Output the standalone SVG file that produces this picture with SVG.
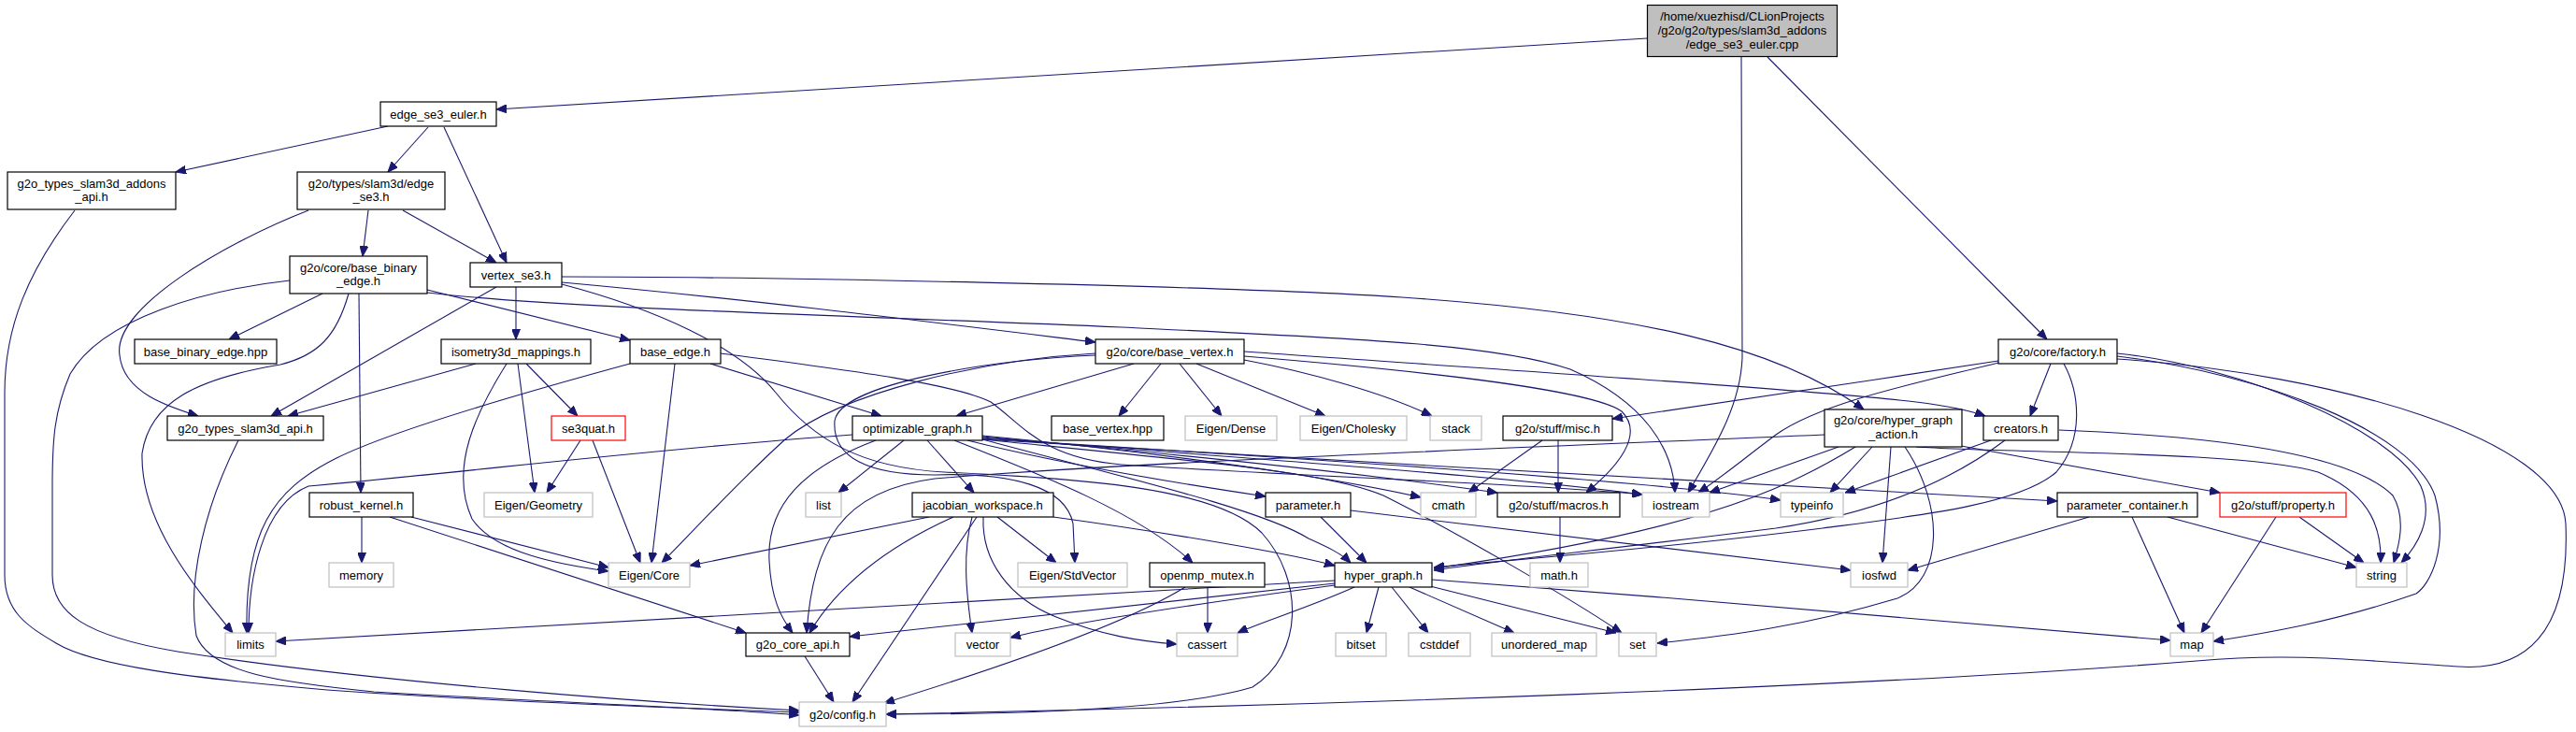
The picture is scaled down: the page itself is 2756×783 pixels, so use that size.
<svg xmlns="http://www.w3.org/2000/svg" width="2756" height="783" viewBox="0 0 2756 783">
<style>
.n rect{fill:#fff;stroke:#000;stroke-width:1.2}
.g rect{stroke:#bfbfbf}
.r rect{stroke:#ff0000}
.root rect{fill:#bfbfbf}
text{font-family:"Liberation Sans",Arial,Helvetica,sans-serif;font-size:13px;text-anchor:middle;fill:#000}
#edges path{fill:none;stroke:#191970;stroke-width:1.1;marker-end:url(#a)}
</style>
<defs>
<marker id="a" markerWidth="11" markerHeight="9" refX="11" refY="4.5" orient="auto" markerUnits="userSpaceOnUse"><path d="M0,0 L11,4.5 L0,9 z" fill="#191970" stroke="#191970" stroke-width="1"/></marker>
</defs>
<rect width="2756" height="783" fill="#fff"/>
<g id="edges">
<path d="M1762,41 L531,117"/>
<path d="M1863,61 L1864,383 C1862,430 1840,470 1806,527"/>
<path d="M1891,61 L2190,363"/>
<path d="M415,135 L188,184"/>
<path d="M458,136 L415,184"/>
<path d="M475,136 L542,281"/>
<path d="M80,225 C30,290 5,350 5,420 L5,615 C5,655 30,670 60,688 C100,712 200,725 350,738 C550,752 750,758 855,762"/>
<path d="M394,225 L388,274"/>
<path d="M431,225 L531,281"/>
<path d="M330,225 C240,260 120,330 128,380 C132,420 180,435 212,445"/>
<path d="M345,314 L245,363"/>
<path d="M384,314 L386,527"/>
<path d="M310,300 C220,310 110,340 75,400 C58,440 56,470 56,520 L56,615 C56,655 90,680 190,697 C400,730 700,752 855,760"/>
<path d="M373,314 C360,360 340,380 300,390 C210,405 160,430 152,485 C150,560 210,630 249,677"/>
<path d="M457,310 L674,364"/>
<path d="M457,313 C600,330 900,337 1200,350 C1450,362 1600,368 1680,395 C1760,430 1790,480 1792,527"/>
<path d="M601,296 C800,296 1300,305 1500,318 C1750,335 1900,370 1994,438"/>
<path d="M601,302 C800,320 1000,345 1172,366"/>
<path d="M601,304 C700,330 790,370 830,420 C870,470 920,500 1010,505 C1150,512 1300,520 1350,570 C1395,620 1395,700 1340,735 C1250,762 1050,764 948,764"/>
<path d="M552,307 L552,363"/>
<path d="M531,307 L290,445"/>
<path d="M509,389 L308,445"/>
<path d="M563,389 L618,445"/>
<path d="M554,389 L572,527"/>
<path d="M542,389 C510,440 480,500 505,555 C530,592 600,604 651,611"/>
<path d="M621,471 L585,527"/>
<path d="M634,471 L685,602"/>
<path d="M387,553 L387,602"/>
<path d="M440,553 L651,607"/>
<path d="M417,553 L798,677"/>
<path d="M722,389 L697,602"/>
<path d="M760,389 L943,445"/>
<path d="M674,389 C560,420 420,460 360,490 C290,525 262,570 264,677"/>
<path d="M771,378 C900,395 1020,410 1060,430 C1095,455 1115,490 1200,497 C1400,510 1650,518 1757,529"/>
<path d="M1213,389 L1023,445"/>
<path d="M1242,389 L1197,445"/>
<path d="M1262,389 L1307,445"/>
<path d="M1280,389 L1418,445"/>
<path d="M1331,385 C1400,398 1480,420 1532,445"/>
<path d="M1172,378 C1050,385 900,420 840,470 C790,515 740,570 708,602"/>
<path d="M1172,380 C1060,385 900,410 893,450 C890,490 930,508 1000,508 C1080,505 1140,520 1148,560 L1150,602"/>
<path d="M1331,381 C1500,395 1700,415 1735,440 C1760,465 1730,500 1697,527"/>
<path d="M1331,376 C1600,395 1950,418 2050,430 C2090,435 2110,440 2124,445"/>
<path d="M967,471 L897,527"/>
<path d="M992,471 L1042,527"/>
<path d="M1021,471 C1120,510 1220,550 1276,602"/>
<path d="M1035,471 C1150,500 1280,520 1354,531"/>
<path d="M937,471 C860,500 820,540 823,600 C825,640 835,660 848,677"/>
<path d="M912,465 C700,480 500,505 330,520 C280,540 266,620 266,677"/>
<path d="M1051,466 C1200,480 1400,505 1520,532"/>
<path d="M1051,467 C1250,485 1450,505 1602,527"/>
<path d="M1051,468 C1300,488 1600,508 1757,529"/>
<path d="M1051,469 C1350,488 1750,512 1905,535"/>
<path d="M1051,470 C1400,492 1900,518 2201,536"/>
<path d="M1051,470 C1200,510 1350,545 1400,576 C1420,585 1435,592 1445,602"/>
<path d="M1051,470 C1300,495 1420,505 1480,530 C1560,570 1680,640 1735,677"/>
<path d="M994,553 L738,605"/>
<path d="M1020,553 C960,580 900,620 866,677"/>
<path d="M1045,553 L912,751"/>
<path d="M1040,553 C1030,590 1033,630 1040,677"/>
<path d="M1067,553 L1130,602"/>
<path d="M1052,553 C1050,600 1080,640 1130,660 C1180,680 1220,686 1259,689"/>
<path d="M1127,553 C1250,570 1380,592 1428,605"/>
<path d="M861,702 L892,751"/>
<path d="M1292,628 L1292,677"/>
<path d="M1268,628 C1200,670 1050,720 946,752"/>
<path d="M1475,628 L1462,677"/>
<path d="M1489,628 L1528,677"/>
<path d="M1508,628 L1620,677"/>
<path d="M1530,627 L1729,677"/>
<path d="M1532,620 C1800,640 2100,665 2322,685"/>
<path d="M1428,621 C1000,648 600,670 295,686"/>
<path d="M1428,624 C1200,650 1000,670 909,681"/>
<path d="M1428,626 C1250,650 1130,670 1081,682"/>
<path d="M1449,628 C1400,650 1350,665 1324,677"/>
<path d="M1413,553 L1462,602"/>
<path d="M1445,546 L1980,610"/>
<path d="M1669,553 L1669,602"/>
<path d="M1650,471 L1571,527"/>
<path d="M1667,471 L1667,527"/>
<path d="M1967,478 L1829,527"/>
<path d="M1985,478 C1900,530 1800,570 1534,608"/>
<path d="M2003,478 L1958,527"/>
<path d="M2023,478 L2014,602"/>
<path d="M2038,478 C2080,540 2080,620 2030,640 C1930,670 1850,680 1773,688"/>
<path d="M2098,477 L2375,527"/>
<path d="M1952,465 C1600,480 1200,495 1000,512 C900,525 870,580 863,677"/>
<path d="M2050,478 C2150,485 2400,482 2480,505 C2540,530 2548,570 2547,602"/>
<path d="M2130,471 L1974,527"/>
<path d="M2145,471 C2080,520 2000,550 1900,565 C1700,590 1600,600 1534,610"/>
<path d="M2203,460 C2400,468 2520,490 2560,530 C2575,555 2566,585 2561,602"/>
<path d="M2194,389 L2172,445"/>
<path d="M2138,386 C2000,408 1850,428 1725,448"/>
<path d="M2138,388 C2050,410 1950,430 1900,465 C1860,495 1840,512 1817,527"/>
<path d="M2208,389 C2225,420 2230,470 2200,505 C2160,540 2050,552 1950,565 C1750,590 1600,600 1534,607"/>
<path d="M2265,378 C2400,392 2560,460 2590,520 C2605,555 2585,585 2569,602"/>
<path d="M2265,381 C2420,400 2580,460 2605,530 C2620,585 2600,625 2585,635 C2500,665 2420,678 2368,686"/>
<path d="M2265,384 C2500,400 2740,470 2745,560 C2750,680 2700,718 2630,713 C2520,706 2450,698 2350,707 C2000,735 1400,755 948,764"/>
<path d="M2460,553 L2529,602"/>
<path d="M2435,553 L2355,677"/>
<path d="M2235,553 L2041,610"/>
<path d="M2281,553 L2337,677"/>
<path d="M2319,553 L2521,607"/>
<path d="M255,471 C220,540 200,620 210,680 C225,720 300,730 400,740 C600,752 780,758 855,765"/>
</g>
<g id="n0" class="n root"><rect x="1762.5" y="5.5" width="203" height="55"/><text x="1864" y="22">/home/xuezhisd/CLionProjects</text><text x="1864" y="37">/g2o/g2o/types/slam3d_addons</text><text x="1864" y="52">/edge_se3_euler.cpp</text></g>
<g id="n1" class="n"><rect x="407" y="109" width="124" height="26"/><text x="469" y="127">edge_se3_euler.h</text></g>
<g id="n2" class="n"><rect x="8" y="184" width="180" height="40"/><text x="98" y="201">g2o_types_slam3d_addons</text><text x="98" y="215">_api.h</text></g>
<g id="n3" class="n"><rect x="318" y="184" width="158" height="40"/><text x="397" y="201">g2o/types/slam3d/edge</text><text x="397" y="215">_se3.h</text></g>
<g id="n4" class="n"><rect x="310" y="274" width="147" height="40"/><text x="383.5" y="290.5">g2o/core/base_binary</text><text x="383.5" y="305">_edge.h</text></g>
<g id="n5" class="n"><rect x="503" y="281" width="98" height="26"/><text x="552" y="298.5">vertex_se3.h</text></g>
<g id="n6" class="n"><rect x="144" y="363" width="152" height="26"/><text x="220" y="380.5">base_binary_edge.hpp</text></g>
<g id="n7" class="n"><rect x="472" y="363" width="160" height="26"/><text x="552" y="380.5">isometry3d_mappings.h</text></g>
<g id="n8" class="n"><rect x="674" y="363" width="97" height="26"/><text x="722.5" y="380.5">base_edge.h</text></g>
<g id="n9" class="n"><rect x="1172" y="363" width="159" height="26"/><text x="1251.5" y="380.5">g2o/core/base_vertex.h</text></g>
<g id="n10" class="n"><rect x="2138" y="363" width="127" height="26"/><text x="2201.5" y="380.5">g2o/core/factory.h</text></g>
<g id="n11" class="n"><rect x="179" y="445" width="167" height="26"/><text x="262.5" y="462.5">g2o_types_slam3d_api.h</text></g>
<g id="n12" class="n r"><rect x="590" y="445" width="79" height="26"/><text x="629.5" y="462.5">se3quat.h</text></g>
<g id="n13" class="n"><rect x="912" y="445" width="139" height="26"/><text x="981.5" y="462.5">optimizable_graph.h</text></g>
<g id="n14" class="n"><rect x="1125" y="445" width="120" height="26"/><text x="1185" y="462.5">base_vertex.hpp</text></g>
<g id="n15" class="n g"><rect x="1268" y="445" width="98" height="26"/><text x="1317" y="462.5">Eigen/Dense</text></g>
<g id="n16" class="n g"><rect x="1391" y="445" width="114" height="26"/><text x="1448" y="462.5">Eigen/Cholesky</text></g>
<g id="n17" class="n g"><rect x="1530" y="445" width="55" height="26"/><text x="1557.5" y="462.5">stack</text></g>
<g id="n18" class="n"><rect x="1608" y="445" width="117" height="26"/><text x="1666.5" y="462.5">g2o/stuff/misc.h</text></g>
<g id="n19" class="n"><rect x="1952" y="438" width="147" height="40"/><text x="2025.5" y="454">g2o/core/hyper_graph</text><text x="2025.5" y="469">_action.h</text></g>
<g id="n20" class="n"><rect x="2122" y="445" width="80" height="26"/><text x="2162" y="462.5">creators.h</text></g>
<g id="n21" class="n"><rect x="331" y="527" width="111" height="26"/><text x="386.5" y="544.5">robust_kernel.h</text></g>
<g id="n22" class="n g"><rect x="518" y="527" width="116" height="26"/><text x="576" y="544.5">Eigen/Geometry</text></g>
<g id="n23" class="n g"><rect x="862" y="527" width="38" height="26"/><text x="881" y="544.5">list</text></g>
<g id="n24" class="n"><rect x="976" y="527" width="151" height="26"/><text x="1051.5" y="544.5">jacobian_workspace.h</text></g>
<g id="n25" class="n"><rect x="1354" y="527" width="91" height="26"/><text x="1399.5" y="544.5">parameter.h</text></g>
<g id="n26" class="n g"><rect x="1520" y="527" width="59" height="26"/><text x="1549.5" y="544.5">cmath</text></g>
<g id="n27" class="n"><rect x="1602" y="527" width="131" height="26"/><text x="1667.5" y="544.5">g2o/stuff/macros.h</text></g>
<g id="n28" class="n g"><rect x="1757" y="527" width="72" height="26"/><text x="1793" y="544.5">iostream</text></g>
<g id="n29" class="n g"><rect x="1905" y="527" width="67" height="26"/><text x="1938.5" y="544.5">typeinfo</text></g>
<g id="n30" class="n"><rect x="2201" y="527" width="150" height="26"/><text x="2276" y="544.5">parameter_container.h</text></g>
<g id="n31" class="n r"><rect x="2375" y="527" width="135" height="26"/><text x="2442.5" y="544.5">g2o/stuff/property.h</text></g>
<g id="n32" class="n g"><rect x="352" y="602" width="69" height="26"/><text x="386.5" y="619.5">memory</text></g>
<g id="n33" class="n g"><rect x="651" y="602" width="87" height="26"/><text x="694.5" y="619.5">Eigen/Core</text></g>
<g id="n34" class="n g"><rect x="1089" y="602" width="117" height="26"/><text x="1147.5" y="619.5">Eigen/StdVector</text></g>
<g id="n35" class="n"><rect x="1230" y="602" width="123" height="26"/><text x="1291.5" y="619.5">openmp_mutex.h</text></g>
<g id="n36" class="n"><rect x="1428" y="602" width="104" height="26"/><text x="1480" y="619.5">hyper_graph.h</text></g>
<g id="n37" class="n g"><rect x="1637" y="602" width="62" height="26"/><text x="1668" y="619.5">math.h</text></g>
<g id="n38" class="n g"><rect x="1980" y="602" width="61" height="26"/><text x="2010.5" y="619.5">iosfwd</text></g>
<g id="n39" class="n g"><rect x="2521" y="602" width="54" height="26"/><text x="2548" y="619.5">string</text></g>
<g id="n40" class="n g"><rect x="241" y="677" width="54" height="25"/><text x="268" y="694">limits</text></g>
<g id="n41" class="n"><rect x="798" y="677" width="111" height="25"/><text x="853.5" y="694">g2o_core_api.h</text></g>
<g id="n42" class="n g"><rect x="1022" y="677" width="59" height="25"/><text x="1051.5" y="694">vector</text></g>
<g id="n43" class="n g"><rect x="1259" y="677" width="65" height="25"/><text x="1291.5" y="694">cassert</text></g>
<g id="n44" class="n g"><rect x="1429" y="677" width="54" height="25"/><text x="1456" y="694">bitset</text></g>
<g id="n45" class="n g"><rect x="1507" y="677" width="66" height="25"/><text x="1540" y="694">cstddef</text></g>
<g id="n46" class="n g"><rect x="1596" y="677" width="112" height="25"/><text x="1652" y="694">unordered_map</text></g>
<g id="n47" class="n g"><rect x="1732" y="677" width="40" height="25"/><text x="1752" y="694">set</text></g>
<g id="n48" class="n g"><rect x="2322" y="677" width="46" height="25"/><text x="2345" y="694">map</text></g>
<g id="n49" class="n g"><rect x="855" y="751" width="93" height="26"/><text x="901.5" y="768.5">g2o/config.h</text></g>
</svg>
